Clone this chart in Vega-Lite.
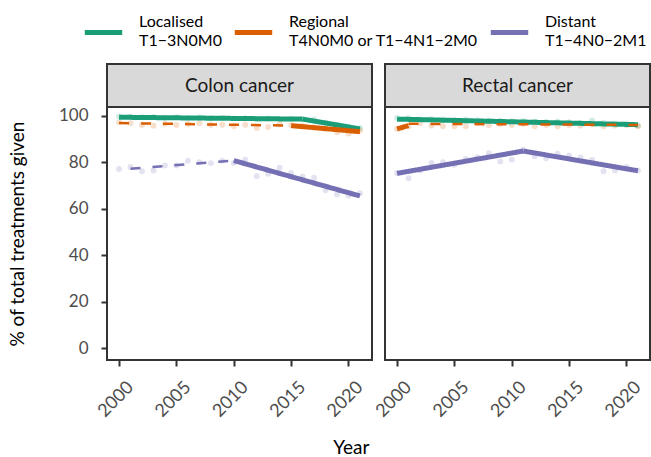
{
  "$schema": "https://vega.github.io/schema/vega-lite/v6.json",
  "padding": {"left": 7, "top": 11, "right": 0, "bottom": 0},
  "background": "white",
  "spacing": -2,
  "config": {
    "font": "Lato",
    "view": {"stroke": "#333333", "strokeWidth": 2},
    "axis": {"grid": false, "domain": false, "tickColor": "#333333", "tickWidth": 2, "tickSize": 6, "labelColor": "#4d4d4d", "labelFontSize": 17, "titleFontSize": 19, "titleFontWeight": "normal", "titleColor": "#000000"},
    "title": {"fontSize": 19, "fontWeight": "normal", "color": "#000000"}
  },
  "title": {"text": "Year", "orient": "bottom", "anchor": "middle", "offset": 18, "dx": 22},
  "data": {"name": "rows"},
  "datasets": {
    "rows": [
      {"cancer": "Colon cancer", "stage": "Localised", "year": 2000, "pct": 99.6},
      {"cancer": "Colon cancer", "stage": "Localised", "year": 2001, "pct": 99.5},
      {"cancer": "Colon cancer", "stage": "Localised", "year": 2002, "pct": 99.3},
      {"cancer": "Colon cancer", "stage": "Localised", "year": 2003, "pct": 99.4},
      {"cancer": "Colon cancer", "stage": "Localised", "year": 2004, "pct": 99.1},
      {"cancer": "Colon cancer", "stage": "Localised", "year": 2005, "pct": 99.3},
      {"cancer": "Colon cancer", "stage": "Localised", "year": 2006, "pct": 99.0},
      {"cancer": "Colon cancer", "stage": "Localised", "year": 2007, "pct": 99.2},
      {"cancer": "Colon cancer", "stage": "Localised", "year": 2008, "pct": 98.9},
      {"cancer": "Colon cancer", "stage": "Localised", "year": 2009, "pct": 99.0},
      {"cancer": "Colon cancer", "stage": "Localised", "year": 2010, "pct": 98.8},
      {"cancer": "Colon cancer", "stage": "Localised", "year": 2011, "pct": 98.9},
      {"cancer": "Colon cancer", "stage": "Localised", "year": 2012, "pct": 98.6},
      {"cancer": "Colon cancer", "stage": "Localised", "year": 2013, "pct": 98.8},
      {"cancer": "Colon cancer", "stage": "Localised", "year": 2014, "pct": 98.5},
      {"cancer": "Colon cancer", "stage": "Localised", "year": 2015, "pct": 98.7},
      {"cancer": "Colon cancer", "stage": "Localised", "year": 2016, "pct": 98.4},
      {"cancer": "Colon cancer", "stage": "Localised", "year": 2017, "pct": 98.3},
      {"cancer": "Colon cancer", "stage": "Localised", "year": 2018, "pct": 97.0},
      {"cancer": "Colon cancer", "stage": "Localised", "year": 2019, "pct": 96.0},
      {"cancer": "Colon cancer", "stage": "Localised", "year": 2020, "pct": 95.2},
      {"cancer": "Colon cancer", "stage": "Localised", "year": 2021, "pct": 94.6},
      {"cancer": "Colon cancer", "stage": "Regional", "year": 2000, "pct": 97.1},
      {"cancer": "Colon cancer", "stage": "Regional", "year": 2001, "pct": 96.7},
      {"cancer": "Colon cancer", "stage": "Regional", "year": 2002, "pct": 96.0},
      {"cancer": "Colon cancer", "stage": "Regional", "year": 2003, "pct": 95.7},
      {"cancer": "Colon cancer", "stage": "Regional", "year": 2004, "pct": 96.4},
      {"cancer": "Colon cancer", "stage": "Regional", "year": 2005, "pct": 96.0},
      {"cancer": "Colon cancer", "stage": "Regional", "year": 2006, "pct": 96.4},
      {"cancer": "Colon cancer", "stage": "Regional", "year": 2007, "pct": 96.7},
      {"cancer": "Colon cancer", "stage": "Regional", "year": 2008, "pct": 96.1},
      {"cancer": "Colon cancer", "stage": "Regional", "year": 2009, "pct": 96.1},
      {"cancer": "Colon cancer", "stage": "Regional", "year": 2010, "pct": 95.4},
      {"cancer": "Colon cancer", "stage": "Regional", "year": 2011, "pct": 96.1},
      {"cancer": "Colon cancer", "stage": "Regional", "year": 2012, "pct": 94.7},
      {"cancer": "Colon cancer", "stage": "Regional", "year": 2013, "pct": 95.1},
      {"cancer": "Colon cancer", "stage": "Regional", "year": 2014, "pct": 96.3},
      {"cancer": "Colon cancer", "stage": "Regional", "year": 2015, "pct": 96.0},
      {"cancer": "Colon cancer", "stage": "Regional", "year": 2016, "pct": 95.7},
      {"cancer": "Colon cancer", "stage": "Regional", "year": 2017, "pct": 95.0},
      {"cancer": "Colon cancer", "stage": "Regional", "year": 2018, "pct": 94.3},
      {"cancer": "Colon cancer", "stage": "Regional", "year": 2019, "pct": 92.9},
      {"cancer": "Colon cancer", "stage": "Regional", "year": 2020, "pct": 92.3},
      {"cancer": "Colon cancer", "stage": "Regional", "year": 2021, "pct": 93.6},
      {"cancer": "Colon cancer", "stage": "Distant", "year": 2000, "pct": 77.1},
      {"cancer": "Colon cancer", "stage": "Distant", "year": 2001, "pct": 77.9},
      {"cancer": "Colon cancer", "stage": "Distant", "year": 2002, "pct": 76.1},
      {"cancer": "Colon cancer", "stage": "Distant", "year": 2003, "pct": 76.4},
      {"cancer": "Colon cancer", "stage": "Distant", "year": 2004, "pct": 78.6},
      {"cancer": "Colon cancer", "stage": "Distant", "year": 2005, "pct": 78.6},
      {"cancer": "Colon cancer", "stage": "Distant", "year": 2006, "pct": 80.6},
      {"cancer": "Colon cancer", "stage": "Distant", "year": 2007, "pct": 80.0},
      {"cancer": "Colon cancer", "stage": "Distant", "year": 2008, "pct": 79.6},
      {"cancer": "Colon cancer", "stage": "Distant", "year": 2009, "pct": 80.6},
      {"cancer": "Colon cancer", "stage": "Distant", "year": 2010, "pct": 79.7},
      {"cancer": "Colon cancer", "stage": "Distant", "year": 2011, "pct": 81.1},
      {"cancer": "Colon cancer", "stage": "Distant", "year": 2012, "pct": 74.0},
      {"cancer": "Colon cancer", "stage": "Distant", "year": 2013, "pct": 75.0},
      {"cancer": "Colon cancer", "stage": "Distant", "year": 2014, "pct": 77.6},
      {"cancer": "Colon cancer", "stage": "Distant", "year": 2015, "pct": 75.4},
      {"cancer": "Colon cancer", "stage": "Distant", "year": 2016, "pct": 73.9},
      {"cancer": "Colon cancer", "stage": "Distant", "year": 2017, "pct": 73.3},
      {"cancer": "Colon cancer", "stage": "Distant", "year": 2018, "pct": 67.9},
      {"cancer": "Colon cancer", "stage": "Distant", "year": 2019, "pct": 66.1},
      {"cancer": "Colon cancer", "stage": "Distant", "year": 2020, "pct": 65.7},
      {"cancer": "Colon cancer", "stage": "Distant", "year": 2021, "pct": 66.7},
      {"cancer": "Rectal cancer", "stage": "Localised", "year": 2000, "pct": 99.0},
      {"cancer": "Rectal cancer", "stage": "Localised", "year": 2001, "pct": 98.9},
      {"cancer": "Rectal cancer", "stage": "Localised", "year": 2002, "pct": 98.5},
      {"cancer": "Rectal cancer", "stage": "Localised", "year": 2003, "pct": 98.6},
      {"cancer": "Rectal cancer", "stage": "Localised", "year": 2004, "pct": 98.4},
      {"cancer": "Rectal cancer", "stage": "Localised", "year": 2005, "pct": 98.2},
      {"cancer": "Rectal cancer", "stage": "Localised", "year": 2006, "pct": 98.3},
      {"cancer": "Rectal cancer", "stage": "Localised", "year": 2007, "pct": 98.0},
      {"cancer": "Rectal cancer", "stage": "Localised", "year": 2008, "pct": 97.9},
      {"cancer": "Rectal cancer", "stage": "Localised", "year": 2009, "pct": 97.8},
      {"cancer": "Rectal cancer", "stage": "Localised", "year": 2010, "pct": 97.6},
      {"cancer": "Rectal cancer", "stage": "Localised", "year": 2011, "pct": 97.7},
      {"cancer": "Rectal cancer", "stage": "Localised", "year": 2012, "pct": 97.5},
      {"cancer": "Rectal cancer", "stage": "Localised", "year": 2013, "pct": 97.3},
      {"cancer": "Rectal cancer", "stage": "Localised", "year": 2014, "pct": 97.4},
      {"cancer": "Rectal cancer", "stage": "Localised", "year": 2015, "pct": 97.2},
      {"cancer": "Rectal cancer", "stage": "Localised", "year": 2016, "pct": 97.0},
      {"cancer": "Rectal cancer", "stage": "Localised", "year": 2017, "pct": 97.9},
      {"cancer": "Rectal cancer", "stage": "Localised", "year": 2018, "pct": 96.8},
      {"cancer": "Rectal cancer", "stage": "Localised", "year": 2019, "pct": 96.6},
      {"cancer": "Rectal cancer", "stage": "Localised", "year": 2020, "pct": 96.5},
      {"cancer": "Rectal cancer", "stage": "Localised", "year": 2021, "pct": 95.8},
      {"cancer": "Rectal cancer", "stage": "Regional", "year": 2000, "pct": 94.3},
      {"cancer": "Rectal cancer", "stage": "Regional", "year": 2001, "pct": 95.4},
      {"cancer": "Rectal cancer", "stage": "Regional", "year": 2002, "pct": 96.7},
      {"cancer": "Rectal cancer", "stage": "Regional", "year": 2003, "pct": 95.7},
      {"cancer": "Rectal cancer", "stage": "Regional", "year": 2004, "pct": 95.4},
      {"cancer": "Rectal cancer", "stage": "Regional", "year": 2005, "pct": 95.4},
      {"cancer": "Rectal cancer", "stage": "Regional", "year": 2006, "pct": 95.4},
      {"cancer": "Rectal cancer", "stage": "Regional", "year": 2007, "pct": 96.7},
      {"cancer": "Rectal cancer", "stage": "Regional", "year": 2008, "pct": 96.0},
      {"cancer": "Rectal cancer", "stage": "Regional", "year": 2009, "pct": 96.4},
      {"cancer": "Rectal cancer", "stage": "Regional", "year": 2010, "pct": 96.0},
      {"cancer": "Rectal cancer", "stage": "Regional", "year": 2011, "pct": 96.4},
      {"cancer": "Rectal cancer", "stage": "Regional", "year": 2012, "pct": 95.4},
      {"cancer": "Rectal cancer", "stage": "Regional", "year": 2013, "pct": 96.0},
      {"cancer": "Rectal cancer", "stage": "Regional", "year": 2014, "pct": 95.4},
      {"cancer": "Rectal cancer", "stage": "Regional", "year": 2015, "pct": 96.0},
      {"cancer": "Rectal cancer", "stage": "Regional", "year": 2016, "pct": 95.7},
      {"cancer": "Rectal cancer", "stage": "Regional", "year": 2017, "pct": 96.4},
      {"cancer": "Rectal cancer", "stage": "Regional", "year": 2018, "pct": 95.4},
      {"cancer": "Rectal cancer", "stage": "Regional", "year": 2019, "pct": 95.7},
      {"cancer": "Rectal cancer", "stage": "Regional", "year": 2020, "pct": 96.0},
      {"cancer": "Rectal cancer", "stage": "Regional", "year": 2021, "pct": 95.4},
      {"cancer": "Rectal cancer", "stage": "Distant", "year": 2000, "pct": 75.4},
      {"cancer": "Rectal cancer", "stage": "Distant", "year": 2001, "pct": 73.1},
      {"cancer": "Rectal cancer", "stage": "Distant", "year": 2002, "pct": 76.4},
      {"cancer": "Rectal cancer", "stage": "Distant", "year": 2003, "pct": 79.7},
      {"cancer": "Rectal cancer", "stage": "Distant", "year": 2004, "pct": 80.0},
      {"cancer": "Rectal cancer", "stage": "Distant", "year": 2005, "pct": 78.9},
      {"cancer": "Rectal cancer", "stage": "Distant", "year": 2006, "pct": 81.4},
      {"cancer": "Rectal cancer", "stage": "Distant", "year": 2007, "pct": 82.1},
      {"cancer": "Rectal cancer", "stage": "Distant", "year": 2008, "pct": 83.9},
      {"cancer": "Rectal cancer", "stage": "Distant", "year": 2009, "pct": 80.3},
      {"cancer": "Rectal cancer", "stage": "Distant", "year": 2010, "pct": 81.1},
      {"cancer": "Rectal cancer", "stage": "Distant", "year": 2011, "pct": 85.4},
      {"cancer": "Rectal cancer", "stage": "Distant", "year": 2012, "pct": 82.6},
      {"cancer": "Rectal cancer", "stage": "Distant", "year": 2013, "pct": 81.7},
      {"cancer": "Rectal cancer", "stage": "Distant", "year": 2014, "pct": 83.6},
      {"cancer": "Rectal cancer", "stage": "Distant", "year": 2015, "pct": 82.9},
      {"cancer": "Rectal cancer", "stage": "Distant", "year": 2016, "pct": 82.0},
      {"cancer": "Rectal cancer", "stage": "Distant", "year": 2017, "pct": 81.0},
      {"cancer": "Rectal cancer", "stage": "Distant", "year": 2018, "pct": 76.1},
      {"cancer": "Rectal cancer", "stage": "Distant", "year": 2019, "pct": 76.4},
      {"cancer": "Rectal cancer", "stage": "Distant", "year": 2020, "pct": 77.9},
      {"cancer": "Rectal cancer", "stage": "Distant", "year": 2021, "pct": 76.4},
      {"cancer": "Colon cancer", "stage": "Localised", "segment": "CL1", "trend": "significant", "year": 2000, "fitted": 99.3},
      {"cancer": "Colon cancer", "stage": "Localised", "segment": "CL1", "trend": "significant", "year": 2016, "fitted": 98.5},
      {"cancer": "Colon cancer", "stage": "Localised", "segment": "CL2", "trend": "significant", "year": 2016, "fitted": 98.5},
      {"cancer": "Colon cancer", "stage": "Localised", "segment": "CL2", "trend": "significant", "year": 2021, "fitted": 94.3},
      {"cancer": "Colon cancer", "stage": "Regional", "segment": "CR1", "trend": "not significant", "year": 2000, "fitted": 96.8},
      {"cancer": "Colon cancer", "stage": "Regional", "segment": "CR1", "trend": "not significant", "year": 2015, "fitted": 95.7},
      {"cancer": "Colon cancer", "stage": "Regional", "segment": "CR2", "trend": "significant", "year": 2015, "fitted": 95.7},
      {"cancer": "Colon cancer", "stage": "Regional", "segment": "CR2", "trend": "significant", "year": 2021, "fitted": 93.1},
      {"cancer": "Colon cancer", "stage": "Distant", "segment": "CD1", "trend": "not significant", "year": 2001, "fitted": 77.2},
      {"cancer": "Colon cancer", "stage": "Distant", "segment": "CD1", "trend": "not significant", "year": 2010, "fitted": 80.7},
      {"cancer": "Colon cancer", "stage": "Distant", "segment": "CD2", "trend": "significant", "year": 2010, "fitted": 80.7},
      {"cancer": "Colon cancer", "stage": "Distant", "segment": "CD2", "trend": "significant", "year": 2021, "fitted": 65.5},
      {"cancer": "Rectal cancer", "stage": "Localised", "segment": "RL1", "trend": "significant", "year": 2000, "fitted": 98.5},
      {"cancer": "Rectal cancer", "stage": "Localised", "segment": "RL1", "trend": "significant", "year": 2021, "fitted": 96.1},
      {"cancer": "Rectal cancer", "stage": "Regional", "segment": "RR1", "trend": "significant", "year": 2000, "fitted": 94.3},
      {"cancer": "Rectal cancer", "stage": "Regional", "segment": "RR1", "trend": "significant", "year": 2001, "fitted": 95.7},
      {"cancer": "Rectal cancer", "stage": "Regional", "segment": "RR2", "trend": "not significant", "year": 2001, "fitted": 96.5},
      {"cancer": "Rectal cancer", "stage": "Regional", "segment": "RR2", "trend": "not significant", "year": 2021, "fitted": 96.0},
      {"cancer": "Rectal cancer", "stage": "Distant", "segment": "RD1", "trend": "significant", "year": 2000, "fitted": 75.2},
      {"cancer": "Rectal cancer", "stage": "Distant", "segment": "RD1", "trend": "significant", "year": 2011, "fitted": 84.8},
      {"cancer": "Rectal cancer", "stage": "Distant", "segment": "RD2", "trend": "significant", "year": 2011, "fitted": 84.8},
      {"cancer": "Rectal cancer", "stage": "Distant", "segment": "RD2", "trend": "significant", "year": 2021, "fitted": 76.3}
    ]
  },
  "hconcat": [
    {
      "bounds": "flush",
      "spacing": 0,
      "vconcat": [
        {
          "data": {"values": [{"cancer": "Colon cancer"}]},
          "width": 265, "height": 43,
          "view": {"fill": "#d9d9d9", "stroke": "#333333", "strokeWidth": 2},
          "mark": {"type": "text", "fontSize": 19, "color": "#1a1a1a"},
          "encoding": {"text": {"field": "cancer", "type": "nominal"}}
        },
        {
          "width": 265, "height": 253,
          "transform": [{"filter": "datum.cancer == 'Colon cancer'"}],
          "layer": [
            {
              "transform": [{"filter": "isValid(datum.pct)"}],
              "mark": {"type": "circle", "size": 35, "opacity": 0.2},
              "encoding": {
                "x": {"field": "year", "type": "quantitative", "scale": {"domain": [1998.95, 2022.05], "nice": false, "zero": false},
                      "axis": {"values": [2000, 2005, 2010, 2015, 2020], "format": "d", "labelAngle": -45, "title": null, "labelPadding": 12, "labelOffset": 5, "labelFontSize": 18}},
                "y": {"field": "pct", "type": "quantitative", "scale": {"domain": [-4.95, 103.7], "nice": false, "zero": false},
                      "axis": {"values": [0, 20, 40, 60, 80, 100], "title": "% of total treatments given", "labelPadding": 13, "titlePadding": 31}},
                "color": {"field": "stage", "type": "nominal", "scale": {"domain": ["Localised", "Regional", "Distant"], "range": ["#1b9e77", "#d95f02", "#7570b3"]}}
              }
            },
            {
              "transform": [{"filter": "isValid(datum.fitted)"}],
              "mark": {"type": "line", "strokeCap": "butt", "strokeJoin": "round"},
              "encoding": {
                "x": {"field": "year", "type": "quantitative"},
                "y": {"field": "fitted", "type": "quantitative"},
                "detail": {"field": "segment"},
                "color": {"field": "stage", "type": "nominal", "scale": {"domain": ["Localised", "Regional", "Distant"], "range": ["#1b9e77", "#d95f02", "#7570b3"]},
                          "legend": {"orient": "none", "legendX": -25, "legendY": -53, "direction": "horizontal", "title": null, "symbolType": "stroke", "symbolSize": 1400, "symbolStrokeWidth": 5, "symbolOpacity": 1, "labelFontSize": 16, "labelColor": "#000000", "labelOffset": 14, "columnPadding": 2, "labelLimit": 400,
                                    "labelExpr": "datum.label == 'Localised' ? ['Localised', 'T1−3N0M0'] : datum.label == 'Regional' ? ['Regional', 'T4N0M0 or T1−4N1−2M0'] : ['Distant', 'T1−4N0−2M1']",
                                    "encode": {"symbols": {"update": {"stroke": {"scale": "color", "field": "value"}, "fill": {"value": "transparent"}, "opacity": {"value": 1}, "strokeWidth": {"value": 5}}}, "labels": {"update": {"lineHeight": {"value": 19}, "dy": {"value": -10.5}}}}}},
                "strokeWidth": {"field": "trend", "type": "nominal", "scale": {"domain": ["significant", "not significant"], "range": [5, 2.5]}, "legend": null},
                "strokeDash": {"field": "trend", "type": "nominal", "scale": {"domain": ["significant", "not significant"], "range": [[1, 0], [10, 12]]}, "legend": null}
              }
            }
          ]
        }
      ]
    },
    {
      "bounds": "flush",
      "spacing": 0,
      "vconcat": [
        {
          "data": {"values": [{"cancer": "Rectal cancer"}]},
          "width": 265, "height": 43,
          "view": {"fill": "#d9d9d9", "stroke": "#333333", "strokeWidth": 2},
          "mark": {"type": "text", "fontSize": 19, "color": "#1a1a1a"},
          "encoding": {"text": {"field": "cancer", "type": "nominal"}}
        },
        {
          "width": 265, "height": 253,
          "transform": [{"filter": "datum.cancer == 'Rectal cancer'"}],
          "layer": [
            {
              "transform": [{"filter": "isValid(datum.pct)"}],
              "mark": {"type": "circle", "size": 35, "opacity": 0.2},
              "encoding": {
                "x": {"field": "year", "type": "quantitative", "scale": {"domain": [1998.95, 2022.05], "nice": false, "zero": false},
                      "axis": {"values": [2000, 2005, 2010, 2015, 2020], "format": "d", "labelAngle": -45, "title": null, "labelPadding": 12, "labelOffset": 5, "labelFontSize": 18}},
                "y": {"field": "pct", "type": "quantitative", "scale": {"domain": [-4.95, 103.7], "nice": false, "zero": false}, "axis": null},
                "color": {"field": "stage", "type": "nominal", "scale": {"domain": ["Localised", "Regional", "Distant"], "range": ["#1b9e77", "#d95f02", "#7570b3"]}}
              }
            },
            {
              "transform": [{"filter": "isValid(datum.fitted)"}],
              "mark": {"type": "line", "strokeCap": "butt", "strokeJoin": "round"},
              "encoding": {
                "x": {"field": "year", "type": "quantitative"},
                "y": {"field": "fitted", "type": "quantitative"},
                "detail": {"field": "segment"},
                "color": {"field": "stage", "type": "nominal", "scale": {"domain": ["Localised", "Regional", "Distant"], "range": ["#1b9e77", "#d95f02", "#7570b3"]}},
                "strokeWidth": {"field": "trend", "type": "nominal", "scale": {"domain": ["significant", "not significant"], "range": [5, 2.5]}, "legend": null},
                "strokeDash": {"field": "trend", "type": "nominal", "scale": {"domain": ["significant", "not significant"], "range": [[1, 0], [10, 12]]}, "legend": null}
              }
            }
          ]
        }
      ]
    }
  ]
}
